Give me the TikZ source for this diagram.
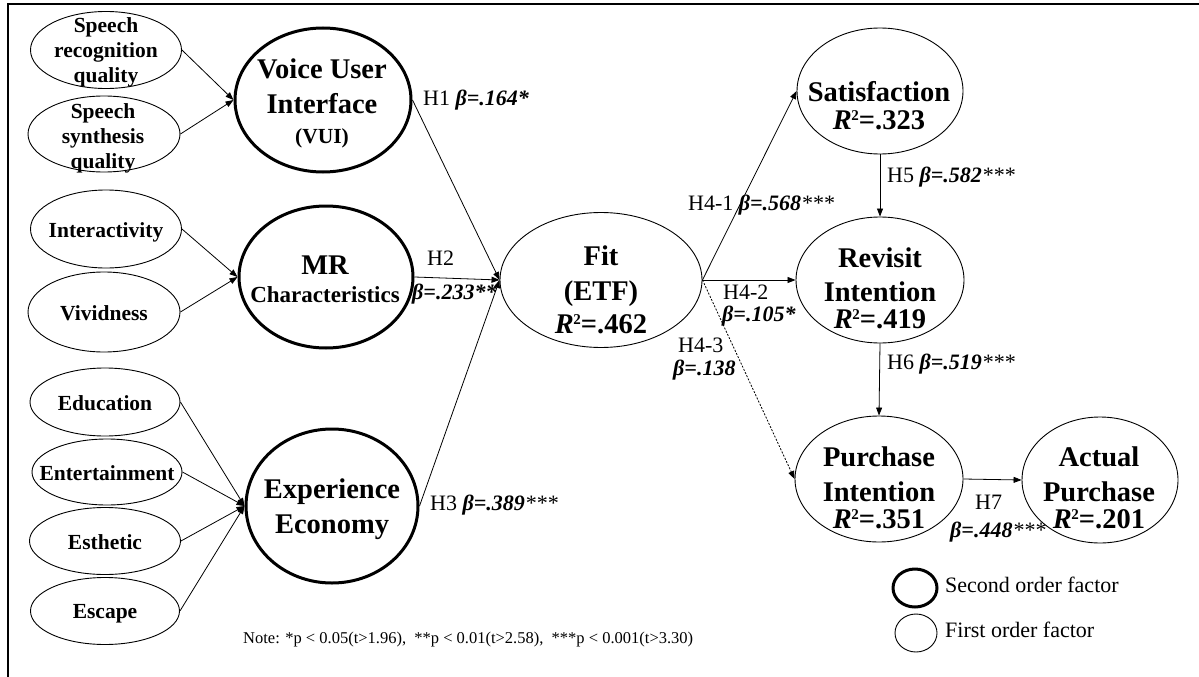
\documentclass[tikz,border=0pt]{standalone}
\usepackage{fontspec}
\setmainfont{Liberation Serif}
\usetikzlibrary{shapes.geometric,arrows.meta}
\newcommand\bi[1]{\textbf{\textit{#1}}}
\newcommand\ml[1]{\begin{tabular}[t]{@{}c@{}}#1\end{tabular}}
\newcommand\fsS{\fontsize{21.5}{25}\selectfont\bfseries}
\newcommand\fsL{\fontsize{28.5}{35}\selectfont\bfseries}
\newcommand\Rsq[1]{\textit{R}\kern-0.5pt\raisebox{8.5pt}{\fontsize{15}{15}\selectfont 2}=#1}
\begin{document}
\begin{tikzpicture}[x=1pt,y=-1pt,
  fo/.style={ellipse, draw, line width=0.9pt, inner sep=0pt},
  so/.style={ellipse, draw, line width=3pt, inner sep=0pt},
  con/.style={line width=0.8pt, -{Triangle[length=8pt,width=6pt]}},
  dotcon/.style={con, dash pattern=on 2pt off 1.5pt},
  lbl/.style={anchor=base west, inner sep=0pt, font=\fontsize{22}{26}\selectfont},
  txt/.style={anchor=base, inner sep=0pt}]
\useasboundingbox (0,0) rectangle (1199,677);
\draw[line width=2.8pt] (1215,4) -- (8,4) -- (8,690);

% first order indicators
\node[fo, minimum width=151pt, minimum height=77pt] (sr) at (106,50) {};
\node[fo, minimum width=152pt, minimum height=76pt] (ss) at (104,134) {};
\node[fo, minimum width=151pt, minimum height=78pt] (ia) at (106,229) {};
\node[fo, minimum width=152pt, minimum height=80pt] (vv) at (104,312) {};
\node[fo, minimum width=150pt, minimum height=68pt] (ed) at (105,402) {};
\node[fo, minimum width=150pt, minimum height=66pt] (et) at (107,472) {};
\node[fo, minimum width=151pt, minimum height=67pt] (es) at (105,541) {};
\node[fo, minimum width=149pt, minimum height=67pt] (ec) at (105,611) {};

\node[txt] (sr-t) at (106,33) {\fsS\ml{Speech\\recognition\\quality}};
\node[txt] (ss-t) at (103,118) {\fsS\ml{Speech\\synthesis\\quality}};
\node[txt] (ia-t) at (106,237) {\fsS Interactivity};
\node[txt] (vv-t) at (104,320) {\fsS Vividness};
\node[txt] (ed-t) at (105,410) {\fsS Education};
\node[txt] (et-t) at (107,480) {\fsS Entertainment};
\node[txt] (es-t) at (105,549) {\fsS Esthetic};
\node[txt] (ec-t) at (105,618) {\fsS Escape};

% second order factors
\node[so, minimum width=176pt, minimum height=144pt] (vui) at (323,100) {};
\node[so, minimum width=174pt, minimum height=142pt] (mr) at (326,277) {};
\node[so, minimum width=172pt, minimum height=154pt] (ee) at (332,506) {};
\node[txt] (vui-t) at (322,78) {\fsL\ml{Voice User\\Interface\\[-5pt]{\fsS (VUI)}}};
\node[txt] (mr-t) at (325,274) {\fsL\ml{MR\\[-7pt]{\fontsize{23}{26}\selectfont Characteristics}}};
\node[txt] (ee-t) at (332,498) {\fsL\ml{Experience\\Economy}};

% first order constructs
\node[fo, minimum width=202pt, minimum height=135pt] (fit) at (601,280) {};
\node[fo, minimum width=166pt, minimum height=126pt] (sat) at (880,91) {};
\node[fo, minimum width=168pt, minimum height=126pt] (rev) at (880,280) {};
\node[fo, minimum width=168pt, minimum height=126pt] (pi) at (879,479) {};
\node[fo, minimum width=156pt, minimum height=126pt] (ap) at (1100,480) {};
\node[txt] (fit-t) at (601,265) {\fsL\ml{Fit\\(ETF)\\[-2pt]\Rsq{.462}}};
\node[txt] (sat-t) at (879,101) {\fsL\ml{Satisfaction\\[-7pt]\Rsq{.323}}};
\node[txt] (rev-t) at (880,267) {\fsL\ml{Revisit\\[-1pt]Intention\\[-8pt]\Rsq{.419}}};
\node[txt] (pi-t) at (879,466) {\fsL\ml{Purchase\\Intention\\[-8pt]\Rsq{.351}}};
\node[txt] (ap-t) at (1099,466) {\fsL\ml{Actual\\Purchase\\[-8pt]\Rsq{.201}}};

% connectors
\draw[con] (sr.east) -- (vui.west);
\draw[con] (ss.east) -- (vui.west);
\draw[con] (ia.east) -- (mr.west);
\draw[con] (vv.east) -- (mr.west);
\draw[con] (ed.east) -- (ee.west);
\draw[con] (et.east) -- (ee.west);
\draw[con] (es.east) -- (ee.west);
\draw[con] (ec.east) -- (ee.west);
\draw[con] (vui.east) -- (fit.west);
\draw[con] (mr.east) -- (fit.west);
\draw[con] (ee.east) -- (fit.west);
\draw[con] (fit.east) -- (sat.west);
\draw[con] (fit.east) -- (rev.west);
\draw[dotcon] (fit.east) -- (pi.west);
\draw[con] (sat.south) -- (rev.north);
\draw[con] (rev.south) -- (pi.north);
\draw[con] (pi.east) -- (ap.west);

% path labels
\node[lbl] (h1) at (423,105) {H1 \bi{β=.164*}};
\node[lbl] (h2) at (427,265) {H2};
\node[lbl] (h2b) at (412,299) {\bi{β=.233**}};
\node[lbl] (h3) at (430,510) {H3 \bi{β=.389}\textit{***}};
\node[lbl] (h41) at (688,210) {H4-1 \bi{β=.568}\textit{***}};
\node[lbl] (h42) at (723,299) {H4-2};
\node[lbl] (h42b) at (722,321) {\bi{β=.105*}};
\node[lbl] (h43) at (678,352) {H4-3};
\node[lbl] (h43b) at (673,375) {\bi{β=.138}};
\node[lbl] (h5) at (887,182) {H5 \bi{β=.582}\textit{***}};
\node[lbl] (h6) at (887,369) {H6 \bi{β=.519}\textit{***}};
\node[lbl] (h7) at (975,509) {H7};
\node[lbl] (h7b) at (950,537) {\bi{β=.448}\textit{***}};

% note and legend
\node[anchor=base west, inner sep=0pt, font=\fontsize{16.5}{19}\selectfont] (note) at (243,643)
  {Note: *p < 0.05(t>1.96),~~**p < 0.01(t>2.58),~~***p < 0.001(t>3.30)};
\node[so, minimum width=44pt, minimum height=38pt] (leg2) at (915,588) {};
\node[fo, minimum width=42pt, minimum height=38pt] (leg1) at (916,633) {};
\node[lbl] (leg2-t) at (945,592) {Second order factor};
\node[lbl] (leg1-t) at (945,637) {First order factor};
\end{tikzpicture}
\end{document}
